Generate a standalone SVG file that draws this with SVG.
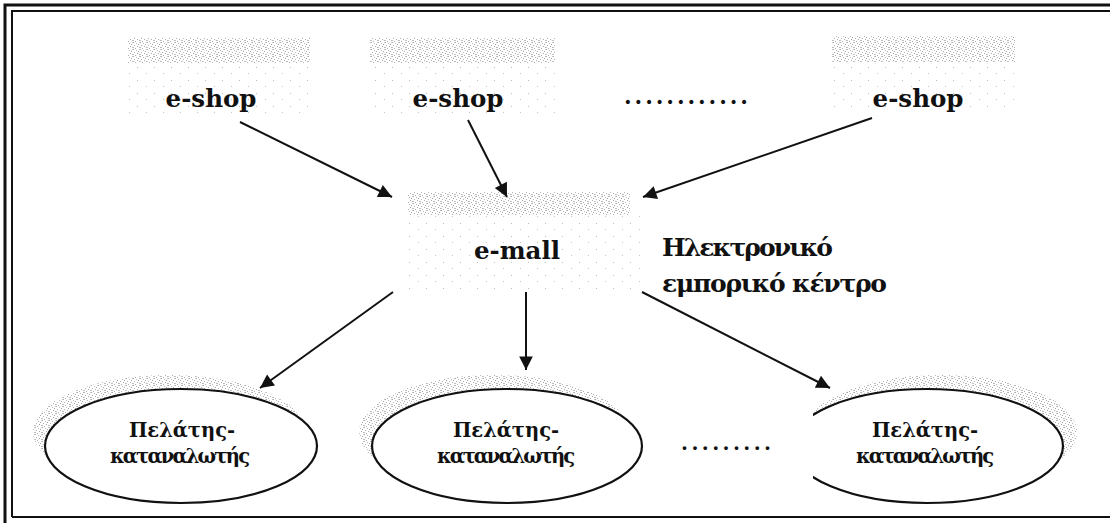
<svg xmlns="http://www.w3.org/2000/svg" width="1110" height="523" viewBox="0 0 1110 523">
<style>
.lbl{font-family:'DejaVu Serif','Liberation Serif',serif;font-weight:bold;fill:#111}
.big{font-size:24.5px}
.ttl{font-size:25px}
.sm{font-size:19.5px}
.edge{stroke:#111;stroke-width:2;fill:none;marker-end:url(#ah)}
.ell{fill:#fff;stroke:#111;stroke-width:2.2}
.frame{fill:none;stroke:#111}
</style>
<defs>
<marker id="ah" viewBox="0 0 10 10" refX="9" refY="5" markerWidth="8" markerHeight="8" markerUnits="userSpaceOnUse" orient="auto" style="overflow:visible">
<path d="M-8,-3.5 L9,5 L-8,13.5 Z" fill="#111"/>
</marker>
<pattern id="dense" width="7" height="7" patternUnits="userSpaceOnUse">
<rect x="0" y="0" width="1" height="1" fill="#aaa"/>
<rect x="3" y="1" width="1" height="1" fill="#bbb"/>
<rect x="5" y="2" width="1" height="1" fill="#a5a5a5"/>
<rect x="1" y="3" width="1" height="1" fill="#b5b5b5"/>
<rect x="4" y="4" width="1" height="1" fill="#aaa"/>
<rect x="6" y="5" width="1" height="1" fill="#bbb"/>
<rect x="2" y="6" width="1" height="1" fill="#b0b0b0"/>
<rect x="6" y="0" width="1" height="1" fill="#c5c5c5"/>
<rect x="0" y="5" width="1" height="1" fill="#c0c0c0"/>
</pattern>
<pattern id="sparse" width="17" height="13" patternUnits="userSpaceOnUse">
<rect x="1" y="2" width="1" height="1" fill="#bbb"/>
<rect x="10" y="8" width="1" height="1" fill="#c5c5c5"/>
</pattern>
<clipPath id="c3"><rect x="813" y="350" width="297" height="170"/></clipPath>
</defs>

<g id="frame">
<path class="frame" stroke-width="3" d="M5,523 V5 H1110"/>
<path class="frame" stroke-width="2" d="M12,517 V11 H1110 M12,517 H1110"/>
</g>

<g id="shop1">
<rect x="128" y="38" width="182" height="25" fill="url(#dense)"/>
<rect x="126" y="63" width="186" height="50" fill="url(#sparse)"/>
<text class="lbl big" x="211" y="107" text-anchor="middle">e-shop</text>
</g>
<g id="shop2">
<rect x="370" y="38" width="185" height="25" fill="url(#dense)"/>
<rect x="368" y="63" width="188" height="50" fill="url(#sparse)"/>
<text class="lbl big" x="458" y="107" text-anchor="middle">e-shop</text>
</g>
<g id="dots-top">
<text class="lbl" x="686" y="104" text-anchor="middle" font-size="22" textLength="124" lengthAdjust="spacing">............</text>
</g>
<g id="shop3">
<rect x="832" y="36" width="183" height="26" fill="url(#dense)"/>
<rect x="830" y="62" width="186" height="50" fill="url(#sparse)"/>
<text class="lbl big" x="918" y="107" text-anchor="middle">e-shop</text>
</g>

<g id="mall">
<rect x="408" y="192" width="222" height="23" fill="url(#dense)"/>
<rect x="405" y="215" width="235" height="75" fill="url(#sparse)"/>
<text class="lbl big" x="517" y="259" text-anchor="middle">e-mall</text>
</g>
<g id="mall-title">
<text class="lbl ttl" x="662" y="256" textLength="171" lengthAdjust="spacing">Ηλεκτρονικό</text>
<text class="lbl ttl" x="662" y="292" textLength="225" lengthAdjust="spacing">εμπορικό κέντρο</text>
</g>

<g id="connectors">
<line class="edge" x1="240" y1="122" x2="392" y2="197"/>
<line class="edge" x1="468" y1="120" x2="507" y2="197"/>
<line class="edge" x1="872" y1="118" x2="643" y2="197"/>
<line class="edge" x1="393" y1="292" x2="260" y2="388"/>
<line class="edge" x1="526" y1="292" x2="526" y2="370"/>
<line class="edge" x1="642" y1="292" x2="830" y2="388"/>
</g>

<g id="client1">
<ellipse cx="169" cy="432" rx="136" ry="57" fill="url(#dense)"/>
<ellipse class="ell" cx="181" cy="446" rx="136" ry="57"/>
<text class="lbl sm" x="182" y="437" text-anchor="middle">Πελάτης-</text>
<text class="lbl sm" x="180" y="463" text-anchor="middle" textLength="140" lengthAdjust="spacing">καταναλωτής</text>
</g>
<g id="client2">
<ellipse cx="494" cy="432" rx="135" ry="57" fill="url(#dense)"/>
<ellipse class="ell" cx="507" cy="446" rx="135" ry="57"/>
<text class="lbl sm" x="506" y="437" text-anchor="middle">Πελάτης-</text>
<text class="lbl sm" x="506" y="463" text-anchor="middle" textLength="138" lengthAdjust="spacing">καταναλωτής</text>
</g>
<g id="dots-bottom">
<text class="lbl" x="726" y="450" text-anchor="middle" font-size="20" textLength="90" lengthAdjust="spacing">.........</text>
</g>
<g id="client3">
<g clip-path="url(#c3)">
<ellipse cx="941" cy="432" rx="136" ry="57" fill="url(#dense)"/>
<ellipse class="ell" cx="927" cy="446" rx="136" ry="57"/>
</g>
<text class="lbl sm" x="925" y="437" text-anchor="middle">Πελάτης-</text>
<text class="lbl sm" x="925" y="463" text-anchor="middle" textLength="138" lengthAdjust="spacing">καταναλωτής</text>
</g>
</svg>
